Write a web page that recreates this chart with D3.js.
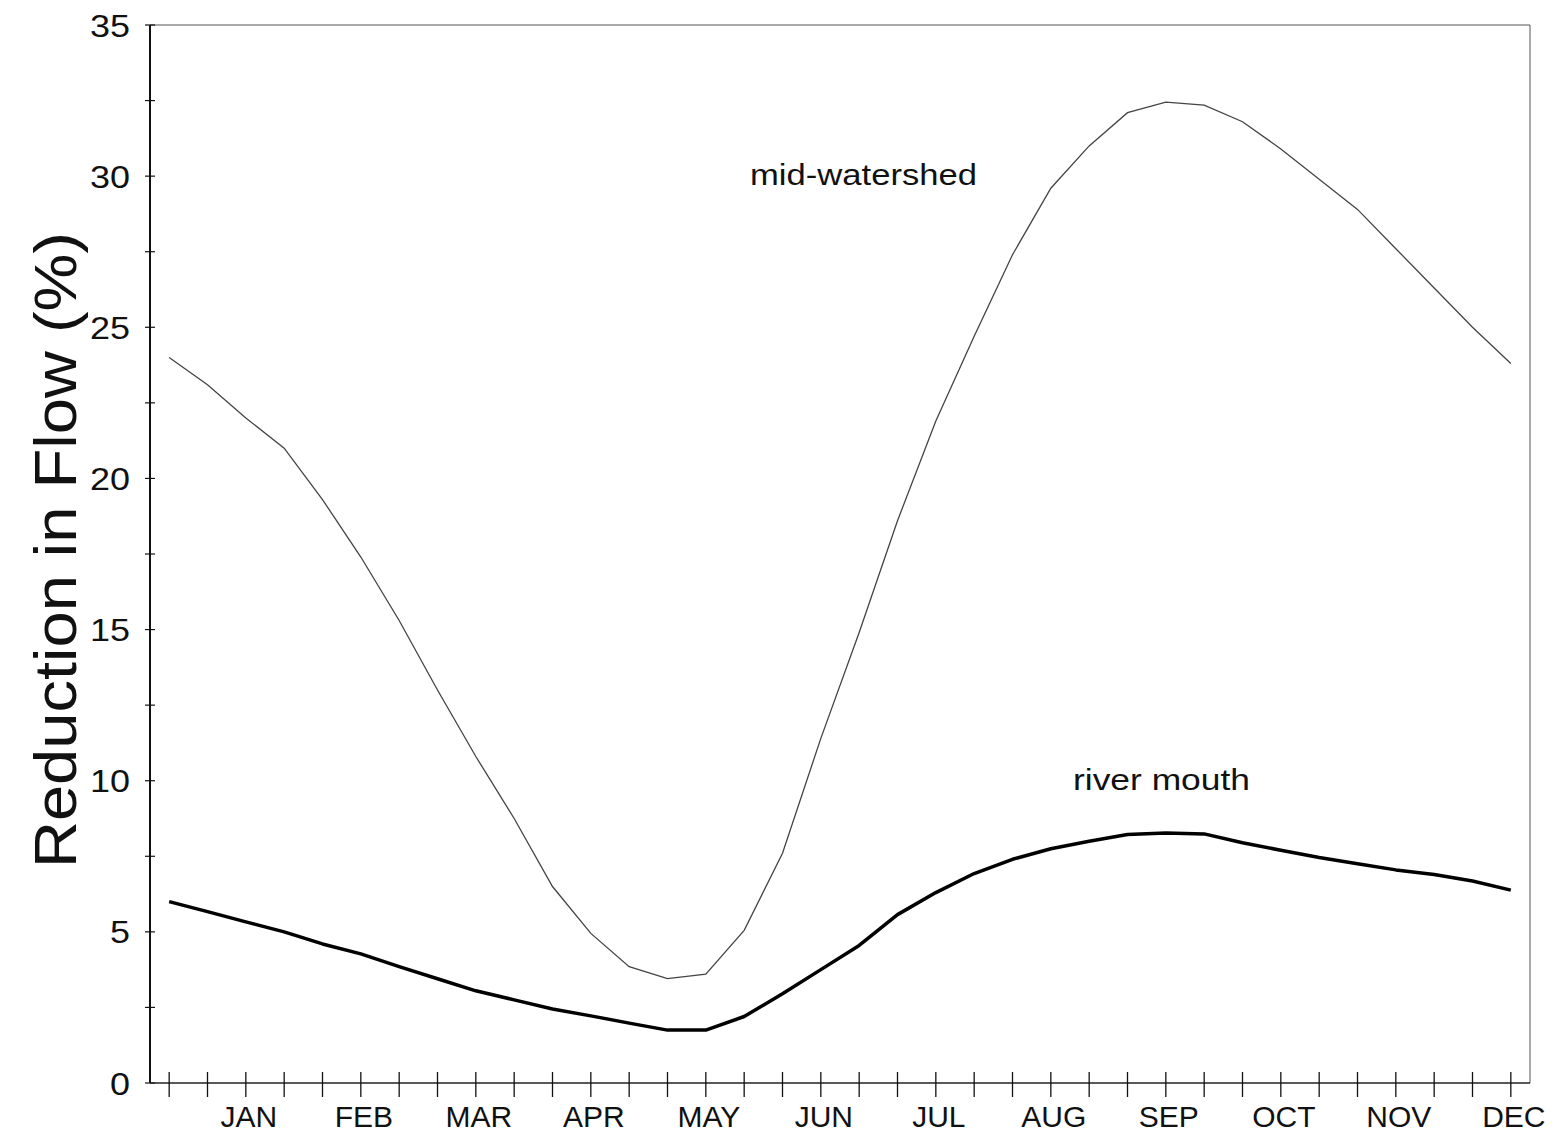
<!DOCTYPE html>
<html>
<head>
<meta charset="utf-8">
<script src="https://cdn.jsdelivr.net/npm/d3@7"></script>
<style>
  html, body { margin: 0; padding: 0; background: #fff; overflow: hidden; }
  svg { display: block; }
  text { font-family: "Liberation Sans", Arial, sans-serif; fill: #111; }
</style>
</head>
<body>
<script>
// Reduction in flow, mid-watershed vs river mouth (3 points per month)

const margin = {top: 25, right: 31, bottom: 64, left: 150};
const outerWidth = 1561;
const outerHeight = 1147;
const innerWidth = outerWidth - margin.left - margin.right;
const innerHeight = outerHeight - margin.top - margin.bottom;

// month labels, one every third tick
const months = ["JAN","FEB","MAR","APR","MAY","JUN","JUL","AUG","SEP","OCT","NOV","DEC"];

// mid-watershed, 36 values (ticks 0..35)
const midWatershed = [24.0, 23.1, 22.0, 21.0, 19.3, 17.4, 15.3, 13.0, 10.8, 8.75, 6.5, 4.95,
                      3.85, 3.45, 3.6, 5.05, 7.6, 11.4, 14.9, 18.6, 21.9, 24.7, 27.4, 29.6,
                      31.0, 32.1, 32.45, 32.35, 31.8, 30.9, 29.9, 28.9, 27.6, 26.3, 25.0, 23.8];

// river mouth, 36 values
const riverMouth = [6.0, 5.67, 5.33, 5.0, 4.6, 4.27, 3.85, 3.45, 3.05, 2.75, 2.45, 2.22,
                    1.98, 1.75, 1.75, 2.2, 2.95, 3.75, 4.55, 5.57, 6.3, 6.93, 7.4, 7.75,
                    8.0, 8.22, 8.27, 8.24, 7.95, 7.7, 7.46, 7.25, 7.05, 6.9, 6.68, 6.38];

const yTicks = [0, 5, 10, 15, 20, 25, 30, 35];

const svg = d3.select("body").append("svg")
    .attr("width", outerWidth)
    .attr("height", outerHeight);

const g = svg.append("g")
    .attr("transform", "translate(" + margin.left + "," + margin.top + ")");

const x = d3.scaleLinear().domain([-0.5, 35.5]).range([0, innerWidth]);
const y = d3.scaleLinear().domain([0, 35]).range([innerHeight, 0]);

// frame (top and right are thin)
g.append("line").attr("x1", 0).attr("x2", innerWidth).attr("y1", 0).attr("y2", 0)
    .attr("stroke", "#555").attr("stroke-width", 1);
g.append("line").attr("x1", innerWidth).attr("x2", innerWidth).attr("y1", 0).attr("y2", innerHeight)
    .attr("stroke", "#555").attr("stroke-width", 1);

// y axis
const yAxis = g.append("g");
yAxis.append("line").attr("x1", 0).attr("x2", 0).attr("y1", 0).attr("y2", innerHeight)
    .attr("stroke", "#111").attr("stroke-width", 2);
yAxis.selectAll(".ytick")
    .data(d3.range(0, 35.01, 2.5))
    .join("line")
    .attr("x1", -5).attr("x2", 5)
    .attr("y1", d => y(d)).attr("y2", d => y(d))
    .attr("stroke", "#111").attr("stroke-width", 1.2);
yAxis.selectAll(".ylab")
    .data(yTicks)
    .join("text")
    .attr("x", -20)
    .attr("y", d => y(d))
    .attr("dy", "0.36em")
    .style("text-anchor", "end")
    .style("font-size", "32px")
    .attr("textLength", d => String(d).length * 20)
    .attr("lengthAdjust", "spacingAndGlyphs")
    .text(d => d);

// x axis
const xAxis = g.append("g").attr("transform", "translate(0," + innerHeight + ")");
xAxis.append("line").attr("x1", 0).attr("x2", innerWidth).attr("y1", 0).attr("y2", 0)
    .attr("stroke", "#222").attr("stroke-width", 1.5);
xAxis.selectAll(".xtick")
    .data(d3.range(36))
    .join("line")
    .attr("x1", d => x(d)).attr("x2", d => x(d))
    .attr("y1", -11).attr("y2", 14)
    .attr("stroke", "#111").attr("stroke-width", 1.3);
xAxis.selectAll(".xlab")
    .data(months)
    .join("text")
    .attr("x", (d, i) => x(i * 3 + 2) + 3)
    .attr("y", 44)
    .style("text-anchor", "middle")
    .style("font-size", "30px")
    .text(d => d);

// y axis title
svg.append("text")
    .attr("transform", "translate(76,550) rotate(-90)")
    .style("text-anchor", "middle")
    .style("font-size", "60px")
    .attr("textLength", 636)
    .attr("lengthAdjust", "spacingAndGlyphs")
    .text("Reduction in Flow (%)");

const line = d3.line()
    .x((d, i) => x(i))
    .y(d => y(d));

g.append("path")
    .datum(midWatershed)
    .attr("d", line)
    .attr("fill", "none")
    .attr("stroke", "#444")
    .attr("stroke-width", 1.3);

g.append("path")
    .datum(riverMouth)
    .attr("d", line)
    .attr("fill", "none")
    .attr("stroke", "#000")
    .attr("stroke-width", 3.5)
    .attr("stroke-linejoin", "round");

// series labels
g.append("text")
    .attr("x", 750 - margin.left)
    .attr("y", y(29.7))
    .style("font-size", "30px")
    .attr("textLength", 227)
    .attr("lengthAdjust", "spacingAndGlyphs")
    .text("mid-watershed");

g.append("text")
    .attr("x", 1073 - margin.left)
    .attr("y", y(9.7))
    .style("font-size", "30px")
    .attr("textLength", 177)
    .attr("lengthAdjust", "spacingAndGlyphs")
    .text("river mouth");
</script>
</body>
</html>
